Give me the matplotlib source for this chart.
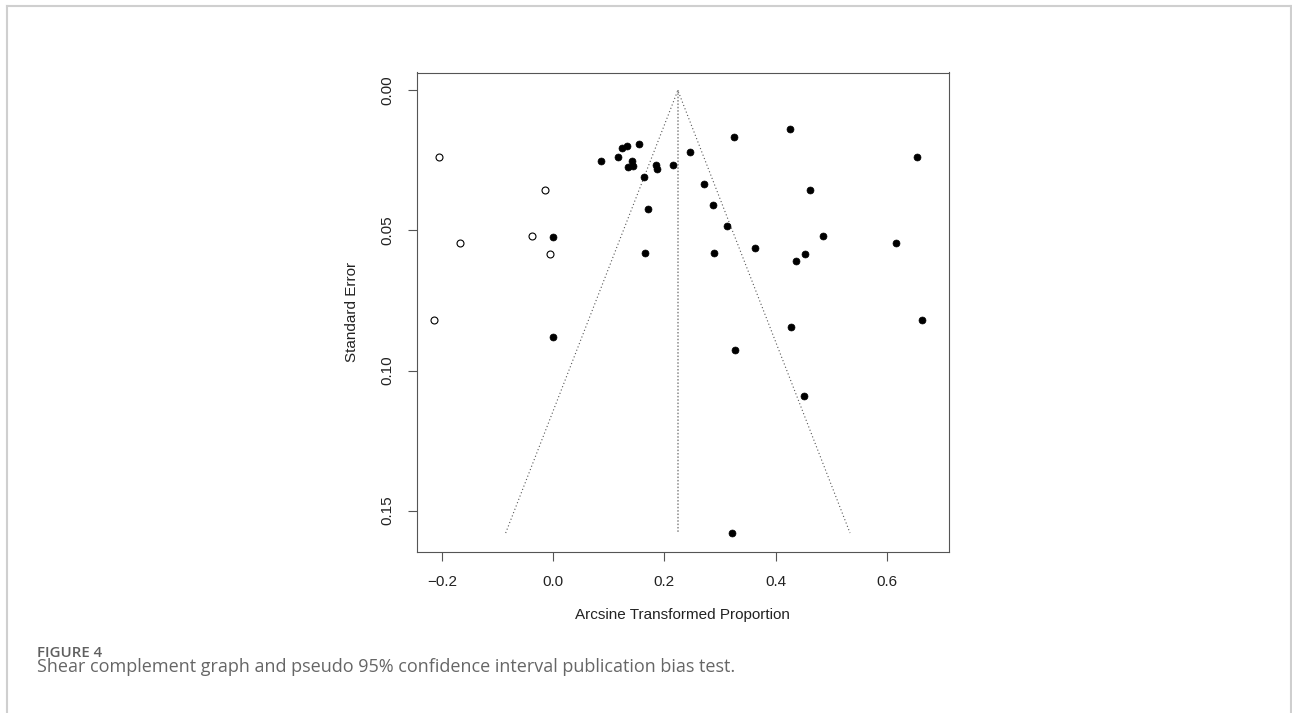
import numpy as np
import matplotlib
matplotlib.use("Agg")
import matplotlib.pyplot as plt
from matplotlib.lines import Line2D

# observed studies (filled) and trim-and-fill imputed studies (open)
obs_es = [0.3258, 0.1237, 0.1333, 0.1537, 0.2455, 0.0866, 0.1165, 0.1424,
          0.1345, 0.1429, 0.1849, 0.1867, 0.2155, 0.1639, 0.2718, 0.2868,
          0.1705, 0.3126, -0.0004, 0.1651, 0.2887, 0.4259, 0.6538, 0.4624,
          0.4853, 0.6160, 0.3635, 0.4535, 0.4367, 0.6633, 0.4271, 0.3275,
          -0.0004, 0.4516, 0.3216]
obs_se = [0.0167, 0.0204, 0.0200, 0.0190, 0.0221, 0.0251, 0.0238, 0.0251,
          0.0273, 0.0270, 0.0265, 0.0280, 0.0267, 0.0308, 0.0334, 0.0408,
          0.0424, 0.0485, 0.0523, 0.0580, 0.0580, 0.0138, 0.0239, 0.0356,
          0.0520, 0.0544, 0.0561, 0.0583, 0.0610, 0.0820, 0.0844, 0.0925,
          0.0882, 0.1090, 0.1580]
fill_es = [-0.2054, -0.0147, -0.0376, -0.1682, -0.0052, -0.2149]
fill_se = [0.0239, 0.0356, 0.0519, 0.0545, 0.0583, 0.0820]

estimate = 0.2242
se_max = 0.1580
xticks = [-0.2, 0.0, 0.2, 0.4, 0.6]
yticks = [0.00, 0.05, 0.10, 0.15]

W, H = 1292, 713
fig = plt.figure(figsize=(W / 100, H / 100), dpi=100)
fig.patch.set_facecolor("white")

# page frame (open at the bottom)
frame = dict(color="#cfcfcf", lw=1.5, transform=None)
fig.add_artist(Line2D([6.5, 1291], [H - 5.8, H - 5.8], **frame))
fig.add_artist(Line2D([6.5, 6.5], [0, H - 5.8], **frame))
fig.add_artist(Line2D([1291, 1291], [0, H - 5.8], **frame))

ax = fig.add_axes([416.8 / W, 1 - 551.5 / H, (949 - 416.8) / W, (551.5 - 72.5) / H])

# funnel
z = 1.96
ax.plot([estimate - z * se_max, estimate, estimate + z * se_max], [se_max, 0, se_max],
        color="#555555", lw=0.8, ls=(0, (1, 2.2)))
ax.plot([estimate, estimate], [0, se_max], color="#888888", lw=1.1, ls=(0, (1, 1.2)))

ax.plot(obs_es, obs_se, "o", ms=5.0, color="black", mec="black", mew=0.5, ls="none")
ax.plot(fill_es, fill_se, "o", ms=5.0, mfc="white", mec="black", mew=0.8, ls="none")

ax.set_xlim(-0.2453, 0.7119)
ax.set_ylim(0.1646, -0.00637)
ax.set_xticks(xticks)
ax.set_yticks(yticks)
ax.set_xticklabels([f"{v:.1f}".replace("-", "\u2212") for v in xticks])
ax.set_yticklabels([f"{v:.2f}" for v in yticks], rotation=90, va="center")

font = "Liberation Sans"
for lab in ax.get_xticklabels() + ax.get_yticklabels():
    lab.set_fontfamily(font)
    lab.set_fontsize(11)
    lab.set_color("#222222")
ax.tick_params(axis="both", direction="out", length=6.8, width=0.8, color="#555555")
ax.tick_params(axis="x", pad=10)
ax.tick_params(axis="y", pad=9)
for s in ax.spines.values():
    s.set_color("#555555")
    s.set_linewidth(0.8)

ax.text(0.5, (551.5 - 615) / (551.5 - 72.5), "Arcsine Transformed Proportion",
        transform=ax.transAxes, ha="center", va="center", fontsize=11,
        family=font, color="#222222")
ax.text((352.5 - 416.8) / (949 - 416.8), 0.5, "Standard Error", rotation=90,
        transform=ax.transAxes, ha="center", va="center", fontsize=11,
        family=font, color="#222222")

# caption
fig.text(36.7 / W, 1 - 657.3 / H, "FIGURE 4", family="Open Sans", fontsize=10.8,
         fontweight="semibold", color="#5f5f5f", va="baseline", ha="left")
fig.text(36.7 / W, 1 - 672 / H,
         "Shear complement graph and pseudo 95% confidence interval publication bias test.",
         family="Open Sans", fontsize=13, color="#666666", va="baseline", ha="left")

fig.savefig("out.png", dpi=100, facecolor="white")
